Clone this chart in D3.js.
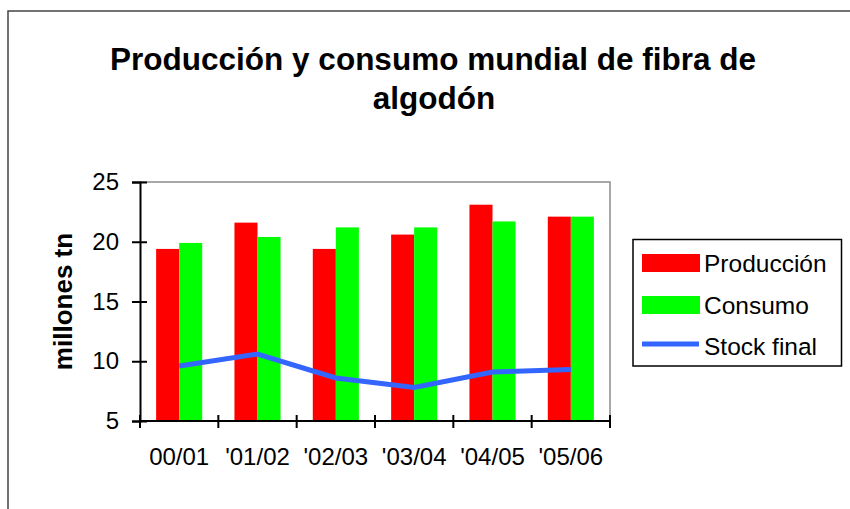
<!DOCTYPE html>
<html><head><meta charset="utf-8">
<script src="https://cdn.jsdelivr.net/npm/d3@7"></script>
<style>
html,body{margin:0;padding:0;background:#fff;}
svg{display:block;font-family:"Liberation Sans",Arial,sans-serif;}
</style></head>
<body><svg id="chart" width="850" height="509"></svg>
<script>
const categories = ["00/01", "'01/02", "'02/03", "'03/04", "'04/05", "'05/06"];
const produccion = [19.4, 21.6, 19.4, 20.6, 23.1, 22.1];
const consumo = [19.9, 20.4, 21.2, 21.2, 21.7, 22.1];
const stockFinal = [9.6, 10.6, 8.6, 7.8, 9.1, 9.3];
const yTicks = [5, 10, 15, 20, 25];
const seriesNames = ["Producción", "Consumo", "Stock final"];
const colors = ["#ff0000", "#00ff00", "#3366ff"];

const svg = d3.select("#chart");
const plot = {left: 140, right: 610, top: 182, bottom: 421};

// outer frame
svg.append("rect").attr("x", 8).attr("y", 11).attr("width", 900).attr("height", 600)
  .attr("fill", "none").attr("stroke", "#444").attr("stroke-width", 1.5);

// title
const title = svg.append("text").attr("text-anchor", "middle")
  .attr("font-weight", "bold").attr("font-size", 31.5).attr("fill", "#000");
title.append("tspan").attr("x", 433).attr("y", 70).text("Producción y consumo mundial de fibra de");
title.append("tspan").attr("x", 434).attr("y", 109).text("algodón");

const x0 = d3.scaleBand().domain(categories).range([plot.left, plot.right]).padding(0);
const y = d3.scaleLinear().domain([5, 25]).range([plot.bottom, plot.top]);
const bw = x0.bandwidth() / 3.4;

// plot area frame (top and right gray)
svg.append("path")
  .attr("d", `M${plot.left},${plot.top}H${plot.right}V${plot.bottom}`)
  .attr("fill", "none").attr("stroke", "#8c8c8c").attr("stroke-width", 1.5);

// bars
const groups = svg.append("g").selectAll("g").data(categories).join("g");
groups.append("rect")
  .attr("x", (d) => x0(d) + x0.bandwidth() / 2 - bw)
  .attr("y", (d, i) => y(produccion[i]))
  .attr("width", bw)
  .attr("height", (d, i) => y(5) - y(produccion[i]))
  .attr("fill", colors[0]);
groups.append("rect")
  .attr("x", (d) => x0(d) + x0.bandwidth() / 2)
  .attr("y", (d, i) => y(consumo[i]))
  .attr("width", bw)
  .attr("height", (d, i) => y(5) - y(consumo[i]))
  .attr("fill", colors[1]);

// stock line
const line = d3.line()
  .x((d, i) => x0(categories[i]) + x0.bandwidth() / 2)
  .y((d) => y(d));
svg.append("path").datum(stockFinal).attr("d", line)
  .attr("fill", "none").attr("stroke", colors[2]).attr("stroke-width", 5)
  .attr("stroke-linejoin", "miter");

// y axis
const yAxis = svg.append("g").attr("transform", `translate(${plot.left},0)`)
  .call(d3.axisLeft(y).tickValues(yTicks).tickSize(8).tickPadding(13));
yAxis.select(".domain").attr("stroke", "#000").attr("stroke-width", 2);
yAxis.selectAll(".tick line").attr("x1", -8).attr("x2", 7).attr("stroke", "#000").attr("stroke-width", 2);
yAxis.selectAll(".tick text").attr("font-size", 24).attr("font-family", "Liberation Sans, Arial, sans-serif").attr("fill", "#000");

// x axis
const xAxis = svg.append("g").attr("transform", `translate(0,${plot.bottom})`)
  .call(d3.axisBottom(x0).tickSize(0).tickPadding(27));
xAxis.select(".domain").remove();
xAxis.selectAll(".tick text").attr("font-size", 24).attr("font-family", "Liberation Sans, Arial, sans-serif").attr("fill", "#000");
xAxis.append("line").attr("x1", plot.left - 1).attr("x2", plot.right + 1).attr("y1", 0).attr("y2", 0)
  .attr("stroke", "#000").attr("stroke-width", 2);
const bounds = categories.map((c) => x0(c)).concat([plot.right]);
xAxis.selectAll(".bt").data(bounds).join("line").attr("class", "bt")
  .attr("x1", (d) => d).attr("x2", (d) => d).attr("y1", -6).attr("y2", 7)
  .attr("stroke", "#000").attr("stroke-width", 2);

// y axis label
svg.append("text").attr("transform", `translate(72,${(plot.top + plot.bottom) / 2}) rotate(-90)`)
  .attr("text-anchor", "middle").attr("font-weight", "bold").attr("font-size", 26)
  .attr("fill", "#000").text("millones tn");

// legend
const lg = svg.append("g");
lg.append("rect").attr("x", 633).attr("y", 239.5).attr("width", 208.5).attr("height", 126.5)
  .attr("fill", "#fff").attr("stroke", "#000").attr("stroke-width", 1.5);
const rowY = [263, 305, 346];
seriesNames.forEach((name, i) => {
  if (i < 2) {
    lg.append("rect").attr("x", 642).attr("y", rowY[i] - 9).attr("width", 58).attr("height", 18).attr("fill", colors[i]);
  } else {
    lg.append("line").attr("x1", 642).attr("x2", 699).attr("y1", rowY[i] - 2).attr("y2", rowY[i] - 2)
      .attr("stroke", colors[i]).attr("stroke-width", 5);
  }
  lg.append("text").attr("x", 704).attr("y", rowY[i] + 8.5).attr("font-size", 24.5).attr("fill", "#000").text(name);
});
</script></body></html>
